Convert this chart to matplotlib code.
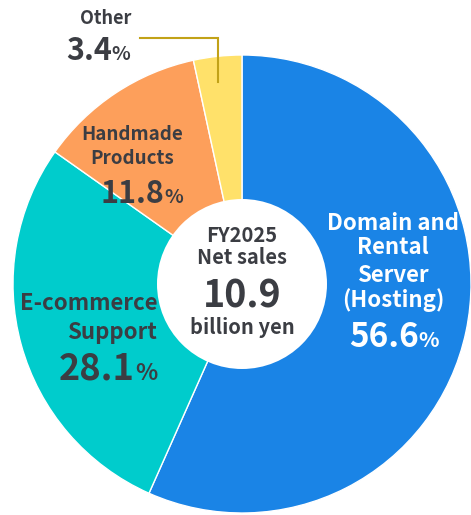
"""
Net sales breakdown by segment for FY2025, drawn as a donut chart
with segment labels inside the ring and the total in the centre.
"""

import matplotlib
matplotlib.use("Agg")
import matplotlib.pyplot as plt
from matplotlib.patches import Circle

plt.rcParams['font.family'] = ['Noto Sans CJK JP', 'DejaVu Sans']

# Segment data
segments = ["Domain and Rental Server (Hosting)", "E-commerce Support",
            "Handmade Products", "Other"]
shares = [56.6, 28.1, 11.8, 3.4]
colors = ["#1a84e6", "#00cccc", "#fd9f5b", "#ffe16a"]

total_label = "10.9"

W, H = 471, 515
DARK = "#3b3d43"


def py(y):
    # convert a top-down pixel row into the axes y coordinate
    return H - y


def pct_label(ax, renderer, x, y, value, size, color, ha="center"):
    """Draw a large number followed by a smaller % sign, baseline aligned."""
    num = ax.text(0, py(y), f"{value}", fontsize=size, fontweight="bold",
                  color=color, va="baseline", ha="left")
    pct = ax.text(0, py(y), "%", fontsize=size * 0.64, fontweight="bold",
                  color=color, va="baseline", ha="left")
    w_num = num.get_window_extent(renderer).width
    w_pct = pct.get_window_extent(renderer).width
    gap = 0
    total = w_num + w_pct + gap
    if ha == "center":
        left = x - total / 2
    elif ha == "right":
        left = x - total
    else:
        left = x
    num.set_x(left)
    pct.set_x(left + w_num + gap)


def plot():
    fig = plt.figure(figsize=(W / 100, H / 100), dpi=100)
    ax = fig.add_axes([0, 0, 1, 1])

    cx, cy, r = 242, 284, 229
    ax.pie(shares, colors=colors, startangle=90, counterclock=False,
           center=(cx, py(cy)), radius=r,
           wedgeprops=dict(edgecolor="white", linewidth=1))
    ax.add_patch(Circle((cx, py(cy)), 85, facecolor="white", edgecolor="none"))

    ax.set_xlim(0, W)
    ax.set_ylim(0, H)
    ax.set_aspect("equal")
    ax.axis("off")

    renderer = fig.canvas.get_renderer()

    # Centre text
    ax.text(cx, py(236), "FY2025", fontsize=14.5, fontweight="bold",
            color=DARK, ha="center", va="center")
    ax.text(cx, py(258), "Net sales", fontsize=14.5, fontweight="bold",
            color=DARK, ha="center", va="center")
    ax.text(cx, py(308), total_label, fontsize=27, fontweight="bold",
            color=DARK, ha="center", va="baseline")
    ax.text(cx, py(327), "billion yen", fontsize=14.5, fontweight="bold",
            color=DARK, ha="center", va="center")

    # Domain and Rental Server (Hosting)
    for line, y in zip(["Domain and", "Rental", "Server", "(Hosting)"],
                       [224, 248, 275, 300]):
        ax.text(393, py(y), line, fontsize=16, fontweight="bold",
                color="white", ha="center", va="center")
    pct_label(ax, renderer, 394, 347, shares[0], 24, "white")

    # E-commerce Support
    ax.text(157, py(304), "E-commerce", fontsize=16, fontweight="bold",
            color=DARK, ha="right", va="center")
    ax.text(157, py(332), "Support", fontsize=16, fontweight="bold",
            color=DARK, ha="right", va="center")
    pct_label(ax, renderer, 157, 380, shares[1], 26, DARK, ha="right")

    # Handmade Products
    ax.text(132, py(135), "Handmade", fontsize=13.5, fontweight="bold",
            color=DARK, ha="center", va="center")
    ax.text(132, py(158), "Products", fontsize=13.5, fontweight="bold",
            color=DARK, ha="center", va="center")
    pct_label(ax, renderer, 142, 203, shares[2], 22, DARK)

    # Other, with a leader line into the thin slice
    ax.text(106, py(18), "Other", fontsize=13, fontweight="bold",
            color=DARK, ha="center", va="center")
    pct_label(ax, renderer, 66, 60, shares[3], 22, DARK, ha="left")
    ax.plot([140, 218, 218], [py(37.5), py(37.5), py(82)],
            color="#c2a217", linewidth=1.5, solid_joinstyle="miter")

    fig.savefig("out.png", dpi=100)


plot()
